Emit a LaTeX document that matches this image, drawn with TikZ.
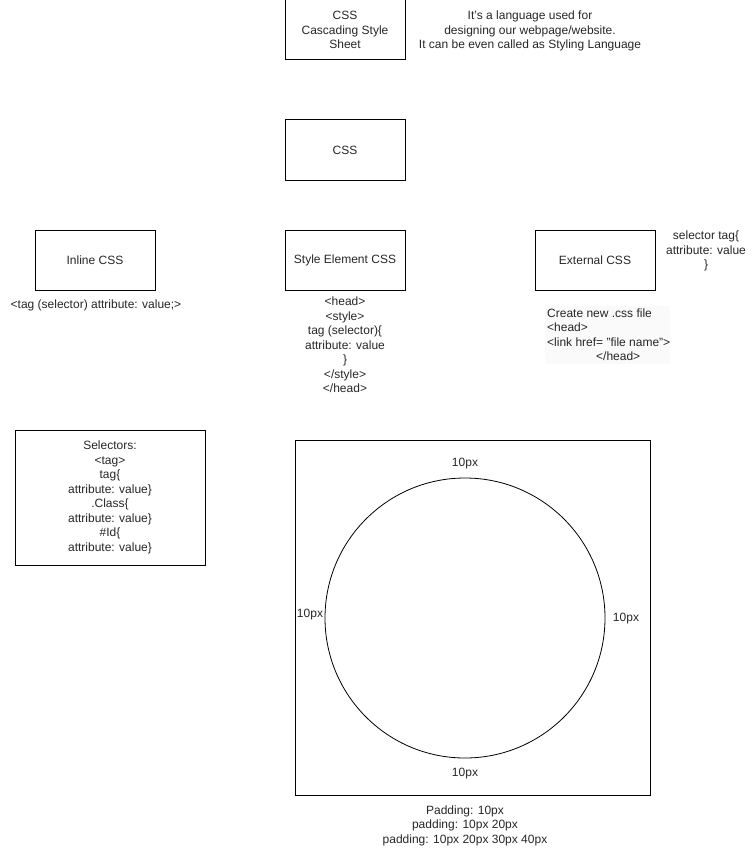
\documentclass[tikz,border=0pt]{standalone}
\usepackage{fontspec}
\setmainfont{Liberation Sans}
\usetikzlibrary{shapes.geometric}
\tikzstyle{box} = [rectangle, draw, line width=1pt, minimum width=120pt, minimum height=60pt, align=center, inner sep=0pt]
\tikzstyle{note} = [align=center, inner sep=0pt]
\tikzstyle{pad} = [inner sep=0pt]

\begin{document}
\begin{tikzpicture}[x=1pt, y=-1pt, font=\fontsize{12}{14.5}\selectfont, text=black!85]
    \useasboundingbox (0,0) rectangle (755,856);
    % top
    \node [box] at (345,30) (cssfull) {CSS\\Cascading Style\\Sheet};
    \node [note] at (530,31) (about) {It's a language used for\\designing our webpage/website.\\It can be even called as Styling Language};
    \node [box] at (345,150) (css) {CSS};
    % three kinds
    \node [box] at (95,260) (inline) {Inline CSS};
    \node [box] at (345,260) (styleel) {Style Element CSS};
    \node [box] at (595,260) (external) {External CSS};
    \node [note] at (96,305) (inlinecode) {<tag (selector) attribute: value;>};
    \node [note] at (345,345) (stylecode) {<head>\\<style>\\tag (selector)\{\\attribute: value\\\}\\</style>\\</head>};
    \node [note] at (706,251) (selcode) {selector tag\{\\attribute: value\\\}};
    \fill [black!2] (545,306) rectangle (670,364);
    \node [align=left, inner sep=0pt, anchor=north west] at (547,308.5) (extcode) {Create new .css file\\<head>\\<link href= "file name">\\\hspace*{49pt}</head>};
    % selectors
    \node [box, minimum width=190pt, minimum height=135pt] at (110,497.5) (selectors) {Selectors:\\<tag>\\tag\{\\attribute: value\}\\.Class\{\\attribute: value\}\\\#Id\{\\attribute: value\}};
    % padding
    \node [box, minimum width=355pt, minimum height=355pt] at (472.5,617.5) (padbox) {};
    \node [circle, draw, line width=0.8pt, minimum size=280pt, inner sep=0pt] at (465,618) (ball) {};
    \node [pad] at (465,464) (padtop) {10px};
    \node [pad] at (465,774) (padbottom) {10px};
    \node [pad] at (310,615) (padleft) {10px};
    \node [pad] at (626,619) (padright) {10px};
    \node [note] at (465,825.5) (padrules) {Padding: 10px\\padding: 10px 20px\\padding: 10px 20px 30px 40px};
\end{tikzpicture}
\end{document}
